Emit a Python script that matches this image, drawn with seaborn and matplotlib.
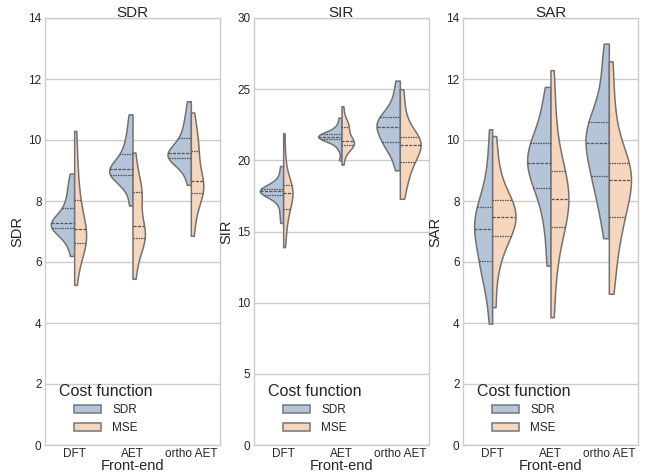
import numpy as np
import pandas as pd
import matplotlib
matplotlib.use("Agg")
import matplotlib.pyplot as plt
import seaborn as sns

front_ends = ["DFT", "AET", "ortho AET"]
cost_functions = ["SDR", "MSE"]
metrics = ["SDR", "SIR", "SAR"]

# per-metric samples: {front-end: {cost function: values}}
sdr_dft_sdr = [6.2, 6.6, 6.85, 7.0, 7.1, 7.15, 7.2, 7.24, 7.27, 7.35, 7.45, 7.6, 7.78, 8.0, 8.25, 8.55, 8.9]
sdr_dft_mse = [5.25, 5.9, 6.3, 6.5, 6.62, 6.7, 6.8, 6.95, 7.08, 7.25, 7.45, 7.75, 8.02, 8.4, 8.9, 9.5, 10.3]
sdr_aet_sdr = [7.85, 8.4, 8.65, 8.78, 8.85, 8.9, 8.95, 9.0, 9.04, 9.12, 9.25, 9.4, 9.55, 9.8, 10.05, 10.4, 10.84]
sdr_aet_mse = [5.45, 6.0, 6.4, 6.6, 6.79, 6.85, 6.95, 7.05, 7.19, 7.5, 7.85, 8.1, 8.28, 8.4, 8.6, 9.0, 9.59]
sdr_ort_sdr = [8.53, 8.95, 9.2, 9.33, 9.40, 9.45, 9.5, 9.53, 9.56, 9.65, 9.78, 9.92, 10.08, 10.3, 10.55, 10.85, 11.27]
sdr_ort_mse = [6.86, 7.4, 7.8, 8.1, 8.26, 8.35, 8.45, 8.55, 8.66, 8.85, 9.1, 9.4, 9.64, 9.85, 10.1, 10.45, 10.9]

sir_dft_sdr = [15.6, 16.3, 16.9, 17.3, 17.55, 17.65, 17.75, 17.8, 17.85, 17.9, 17.93, 17.97, 18.0, 18.2, 18.5, 18.95, 19.6]
sir_dft_mse = [13.9, 14.9, 15.6, 16.2, 16.6, 16.9, 17.2, 17.45, 17.7, 17.85, 18.0, 18.12, 18.25, 18.7, 19.4, 20.4, 21.9]
sir_aet_sdr = [20.0, 20.8, 21.15, 21.35, 21.5, 21.56, 21.6, 21.63, 21.65, 21.7, 21.75, 21.8, 21.87, 22.0, 22.2, 22.5, 23.0]
sir_aet_mse = [19.7, 20.4, 20.8, 21.0, 21.08, 21.15, 21.2, 21.28, 21.36, 21.5, 21.75, 22.1, 22.37, 22.45, 22.6, 23.0, 23.8]
sir_ort_sdr = [19.3, 20.2, 20.8, 21.1, 21.32, 21.6, 21.9, 22.15, 22.37, 22.55, 22.7, 22.9, 23.06, 23.4, 23.9, 24.6, 25.6]
sir_ort_mse = [17.3, 18.3, 18.9, 19.5, 19.89, 20.2, 20.5, 20.8, 21.08, 21.25, 21.4, 21.52, 21.64, 22.1, 22.8, 23.7, 25.0]

sar_dft_sdr = [3.98, 5.0, 5.5, 5.8, 6.02, 6.4, 6.7, 6.9, 7.08, 7.25, 7.45, 7.6, 7.79, 8.1, 8.6, 9.3, 10.35]
sar_dft_mse = [4.52, 5.6, 6.2, 6.6, 6.85, 7.0, 7.2, 7.35, 7.49, 7.6, 7.75, 7.9, 8.03, 8.3, 8.7, 9.3, 10.13]
sar_aet_sdr = [5.88, 6.9, 7.6, 8.1, 8.44, 8.7, 8.9, 9.05, 9.24, 9.45, 9.6, 9.75, 9.91, 10.2, 10.6, 11.1, 11.74]
sar_aet_mse = [4.19, 5.4, 6.2, 6.8, 7.16, 7.45, 7.7, 7.9, 8.08, 8.3, 8.55, 8.8, 8.99, 9.5, 10.2, 11.1, 12.29]
sar_ort_sdr = [6.78, 7.6, 8.1, 8.5, 8.82, 9.1, 9.4, 9.65, 9.89, 10.1, 10.3, 10.45, 10.59, 11.0, 11.6, 12.3, 13.16]
sar_ort_mse = [4.96, 5.9, 6.6, 7.1, 7.48, 7.8, 8.1, 8.4, 8.68, 8.85, 9.0, 9.12, 9.23, 9.7, 10.4, 11.3, 12.58]

samples = {
    "SDR": {"DFT": {"SDR": sdr_dft_sdr, "MSE": sdr_dft_mse},
            "AET": {"SDR": sdr_aet_sdr, "MSE": sdr_aet_mse},
            "ortho AET": {"SDR": sdr_ort_sdr, "MSE": sdr_ort_mse}},
    "SIR": {"DFT": {"SDR": sir_dft_sdr, "MSE": sir_dft_mse},
            "AET": {"SDR": sir_aet_sdr, "MSE": sir_aet_mse},
            "ortho AET": {"SDR": sir_ort_sdr, "MSE": sir_ort_mse}},
    "SAR": {"DFT": {"SDR": sar_dft_sdr, "MSE": sar_dft_mse},
            "AET": {"SDR": sar_aet_sdr, "MSE": sar_aet_mse},
            "ortho AET": {"SDR": sar_ort_sdr, "MSE": sar_ort_mse}},
}

y_limits = {"SDR": (0, 14), "SIR": (0, 30), "SAR": (0, 14)}
y_ticks = {"SDR": [0, 2, 4, 6, 8, 10, 12, 14],
           "SIR": [0, 5, 10, 15, 20, 25, 30],
           "SAR": [0, 2, 4, 6, 8, 10, 12, 14]}

colors = {"SDR": "#b4c4d9", "MSE": "#f6d7bd"}

sns.set_theme(style="whitegrid")
plt.rcParams["font.family"] = ["Liberation Sans", "DejaVu Sans"]
plt.rcParams["axes.edgecolor"] = "#cccccc"
plt.rcParams["grid.color"] = "#cccccc"

fig = plt.figure(figsize=(6.51, 4.74), dpi=100)
lefts = [45, 254, 463]
for i, m in enumerate(metrics):
    ax = fig.add_axes([lefts[i] / 651, 29 / 474, 175 / 651, 427 / 474])
    rows = []
    for fe in front_ends:
        for cf in cost_functions:
            for v in samples[m][fe][cf]:
                rows.append({"Front-end": fe, "Cost function": cf, m: v})
    df = pd.DataFrame(rows)
    # density scaled within each front-end group (both halves share a norm)
    for j, fe in enumerate(front_ends):
        sub = df[df["Front-end"] == fe]
        sns.violinplot(data=sub, x="Front-end", y=m, hue="Cost function",
                       order=front_ends, hue_order=cost_functions,
                       palette=colors, split=True, inner="quart", cut=0,
                       density_norm="area", common_norm=True,
                       bw_adjust=0.75, width=0.8,
                       linewidth=1.1, linecolor="#727272", saturation=1,
                       inner_kws={"color": "#555555", "linewidth": 0.9},
                       legend=(j == len(front_ends) - 1), ax=ax)
    ax.set_ylim(*y_limits[m])
    ax.set_yticks(y_ticks[m])
    ax.set_xlim(-0.5, 2.5)
    ax.set_title(m, fontsize=11, pad=1)
    ax.set_ylabel(m, fontsize=10.5, labelpad=3)
    ax.set_xlabel("Front-end", fontsize=10.5, labelpad=-1)
    ax.tick_params(axis="both", labelsize=8.5, pad=2.5, length=0)
    ax.grid(axis="x", visible=False)
    for s in ax.spines.values():
        s.set_color("#cccccc")
        s.set_linewidth(1.0)
    sns.move_legend(ax, "lower left", title="Cost function", frameon=False,
                    fontsize=8.5, title_fontsize=11.5,
                    handlelength=2.3, handletextpad=0.9,
                    bbox_to_anchor=(0.02, 0.0))
    for h in ax.get_legend().legend_handles:
        h.set_edgecolor("#777777")

fig.savefig("out.png", dpi=100)
